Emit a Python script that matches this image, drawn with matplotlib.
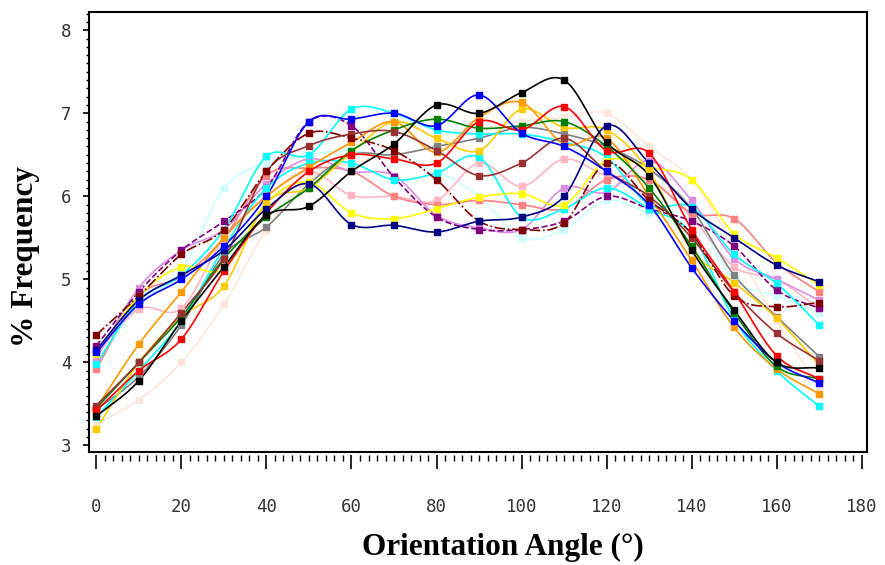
import numpy as np
import matplotlib
matplotlib.use("Agg")
import matplotlib.pyplot as plt
from matplotlib.ticker import MultipleLocator

angles = [0, 10, 20, 30, 40, 50, 60, 70, 80, 90, 100, 110, 120, 130, 140, 150, 160, 170]

peach = [3.25, 3.55, 4.00, 4.70, 5.60, 6.20, 6.40, 6.50, 6.60, 6.80, 6.90, 6.95, 7.00, 6.60, 6.20, 5.40, 4.50, 3.70]
lightcyan = [3.95, 4.70, 5.10, 6.10, 6.40, 6.50, 6.55, 6.45, 6.30, 6.00, 5.50, 5.60, 5.95, 5.80, 5.75, 5.00, 4.80, 4.60]
pink = [4.10, 4.64, 4.65, 5.50, 6.00, 6.30, 6.01, 6.00, 5.95, 6.40, 6.12, 6.45, 6.25, 6.20, 5.75, 5.15, 5.00, 4.65]
salmon = [3.92, 4.80, 5.03, 5.50, 6.25, 6.34, 6.30, 6.00, 5.90, 5.95, 5.90, 5.85, 6.20, 6.20, 5.80, 5.73, 5.20, 4.85]
plum = [4.05, 4.90, 5.35, 5.60, 6.15, 6.45, 6.30, 6.25, 5.77, 5.62, 5.60, 6.10, 6.05, 6.43, 5.95, 5.25, 5.00, 4.75]
purple = [4.20, 4.85, 5.35, 5.70, 6.10, 6.90, 6.85, 6.23, 5.75, 5.60, 5.60, 5.70, 6.00, 5.85, 5.70, 5.40, 4.87, 4.65]
gray = [3.43, 3.83, 4.45, 5.30, 5.63, 6.15, 6.50, 6.50, 6.60, 6.70, 6.83, 6.75, 6.60, 6.33, 5.85, 5.05, 4.55, 4.07]
cyan_b = [3.34, 3.90, 4.50, 5.38, 6.10, 6.40, 6.40, 6.20, 6.28, 6.47, 5.75, 5.85, 6.10, 5.85, 5.55, 4.52, 3.90, 3.47]
cyan_a = [3.98, 4.75, 5.05, 5.60, 6.48, 6.50, 7.05, 7.00, 6.80, 6.75, 6.75, 6.65, 6.47, 5.90, 5.87, 5.30, 4.95, 4.45]
yellow = [4.10, 4.80, 5.15, 5.13, 5.92, 6.17, 5.80, 5.73, 5.85, 5.99, 6.03, 5.90, 6.43, 6.35, 6.20, 5.55, 5.26, 4.93]
gold = [3.20, 4.00, 4.55, 4.92, 5.92, 6.10, 6.53, 6.90, 6.70, 6.55, 7.05, 6.83, 6.80, 6.30, 5.35, 4.96, 4.53, 3.97]
orange = [3.45, 4.22, 4.85, 5.50, 6.00, 6.35, 6.65, 6.90, 6.53, 6.95, 7.13, 6.63, 6.70, 6.00, 5.23, 4.42, 3.92, 3.62]
green = [3.45, 4.00, 4.55, 5.25, 5.75, 6.10, 6.55, 6.80, 6.93, 6.82, 6.85, 6.90, 6.60, 6.10, 5.40, 4.60, 3.95, 3.80]
brown = [3.48, 4.00, 4.60, 5.25, 6.30, 6.61, 6.75, 6.78, 6.55, 6.25, 6.40, 6.70, 6.30, 6.00, 5.50, 4.85, 4.35, 4.02]
darkred = [4.33, 4.80, 5.30, 5.60, 6.30, 6.76, 6.70, 6.55, 6.20, 5.70, 5.60, 5.68, 6.40, 5.95, 5.55, 4.80, 4.67, 4.72]
red = [3.42, 3.90, 4.28, 5.10, 5.80, 6.30, 6.50, 6.45, 6.40, 6.90, 6.80, 7.08, 6.55, 6.52, 5.60, 4.85, 4.08, 3.80]
navy = [4.15, 4.75, 5.05, 5.35, 5.85, 6.15, 5.66, 5.65, 5.57, 5.70, 5.75, 6.00, 6.85, 6.40, 5.85, 5.50, 5.17, 4.97]
blue = [4.12, 4.70, 5.00, 5.40, 6.00, 6.90, 6.93, 7.00, 6.85, 7.22, 6.76, 6.60, 6.30, 5.90, 5.14, 4.50, 4.00, 3.75]
black = [3.35, 3.78, 4.50, 5.15, 5.77, 5.88, 6.30, 6.63, 7.10, 7.00, 7.25, 7.40, 6.65, 6.25, 5.35, 4.63, 4.00, 3.93]

series = [
    (peach, '#FFE6DA', '-'),
    (lightcyan, '#CCFFFF', '-'),
    (pink, '#FFB6C1', '-'),
    (salmon, '#FF8080', '-'),
    (plum, '#DD8EE0', '-'),
    (purple, '#800080', '--'),
    (gray, '#808080', '-'),
    (cyan_b, '#00FFFF', '-'),
    (cyan_a, '#00FFFF', '-'),
    (yellow, '#FFFF00', '-'),
    (gold, '#FFCC00', '-'),
    (orange, '#FF9900', '-'),
    (green, '#008000', '-'),
    (brown, '#993333', '-'),
    (darkred, '#800000', '-.'),
    (red, '#FF0000', '-'),
    (navy, '#000080', '-'),
    (blue, '#0000FF', '-'),
    (black, '#000000', '-'),
]


def smooth(xs, ys, n=20):
    xs = np.asarray(xs, float)
    ys = np.asarray(ys, float)
    px = np.concatenate([[2 * xs[0] - xs[1]], xs, [2 * xs[-1] - xs[-2]]])
    py = np.concatenate([[2 * ys[0] - ys[1]], ys, [2 * ys[-1] - ys[-2]]])
    ox, oy = [], []
    t = np.linspace(0, 1, n, endpoint=False)
    for i in range(1, len(px) - 2):
        for P, out in (((py[i - 1], py[i], py[i + 1], py[i + 2]), oy),
                       ((px[i - 1], px[i], px[i + 1], px[i + 2]), ox)):
            a, b, c, d = P
            out.extend(0.5 * (2 * b + (-a + c) * t + (2 * a - 5 * b + 4 * c - d) * t ** 2
                              + (-a + 3 * b - 3 * c + d) * t ** 3))
    ox.append(xs[-1])
    oy.append(ys[-1])
    return np.array(ox), np.array(oy)


fig = plt.figure(figsize=(8.85, 5.65), dpi=100)
ax = fig.add_axes([89 / 885, 1 - 452 / 565, (867 - 89) / 885, (452 - 12) / 565])

for vals, col, ls in series:
    sx, sy = smooth(angles, vals)
    ax.plot(sx, sy, color=col, lw=1.2, ls=ls, zorder=2)
    ax.plot(angles, vals, ls='none', marker='s', ms=4.5, color=col, mec=col, zorder=3)

ax.set_xlim(-1.74, 181.25)
ax.set_ylim(2.92, 8.22)

ax.xaxis.set_major_locator(MultipleLocator(20))
ax.xaxis.set_minor_locator(MultipleLocator(2))
ax.yaxis.set_major_locator(MultipleLocator(1))
ax.yaxis.set_minor_locator(MultipleLocator(0.1))

for s in ['top', 'left', 'right']:
    ax.spines[s].set_linewidth(1.5)
    ax.spines[s].set_color('black')
ax.spines['bottom'].set_position(('outward', 2))
ax.spines['bottom'].set_visible(False)
ax.plot([0, 1], [0, 0], transform=ax.transAxes, color='black', lw=1.5, clip_on=False, zorder=5)

lab_color = '#333333'
ax.tick_params(axis='x', which='major', direction='out', length=10, width=1.2, pad=21,
               labelsize=12.5, labelcolor=lab_color)
ax.tick_params(axis='x', which='minor', direction='out', length=4.5, width=1.0)
ax.tick_params(axis='y', which='major', direction='out', length=4.5, width=1.2, pad=8,
               labelsize=12.5, labelcolor=lab_color)
ax.tick_params(axis='y', which='minor', direction='out', length=2.5, width=1.0)

xtick_vals = list(range(0, 181, 20))
ytick_vals = list(range(3, 9))
ax.set_xticks(xtick_vals)
ax.set_xticklabels([str(v) for v in xtick_vals], family='DejaVu Sans Mono')
ax.set_yticks(ytick_vals)
ax.set_yticklabels([str(v) for v in ytick_vals], family='DejaVu Sans Mono')

fig.text(503 / 885, 1 - 547 / 565, 'Orientation Angle (°)', ha='center', va='center',
         family='Liberation Serif', weight='bold', fontsize=22.5)
fig.text(26 / 885, 1 - 257 / 565, '% Frequency', ha='center', va='center', rotation=90,
         family='Liberation Serif', weight='bold', fontsize=22.5)

fig.savefig('out.png', dpi=100)
